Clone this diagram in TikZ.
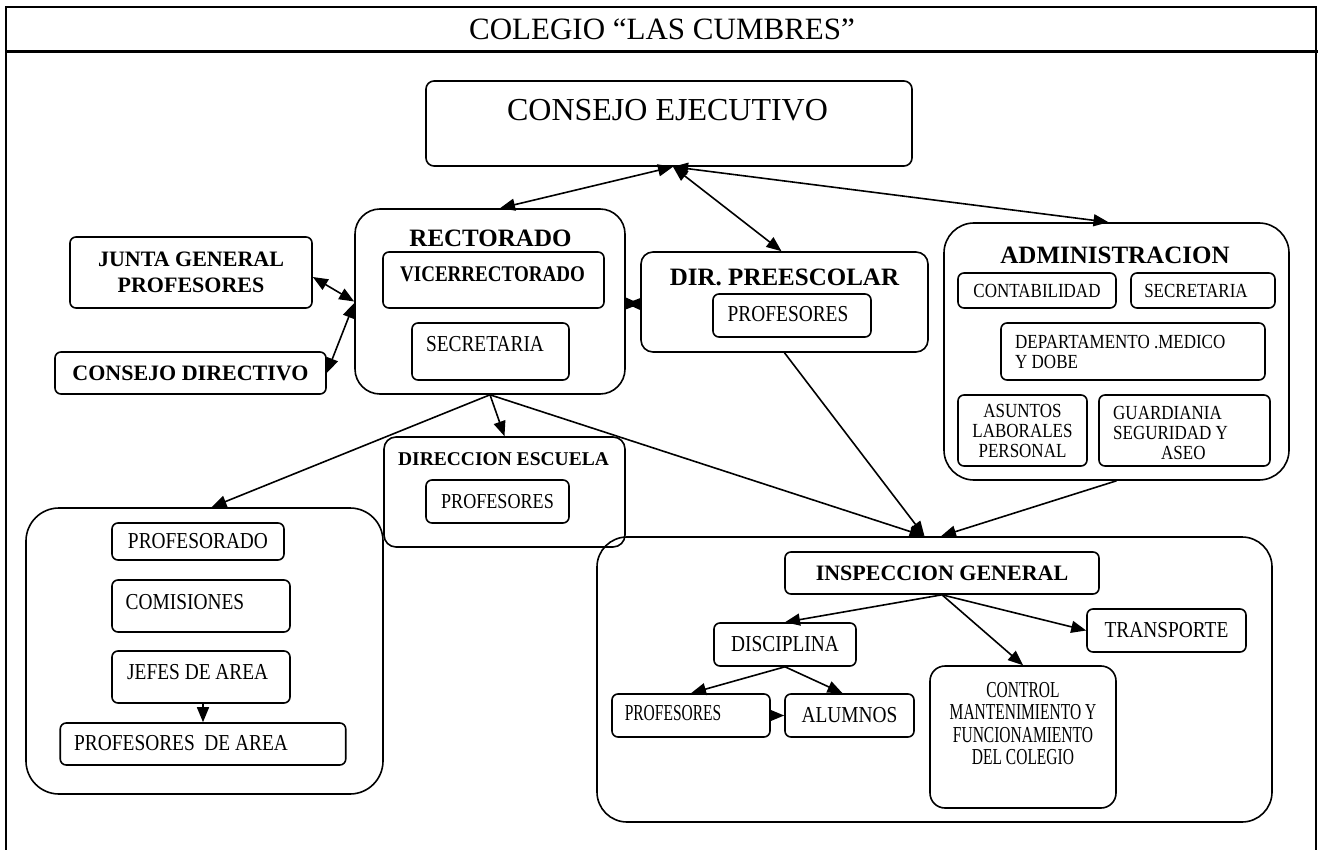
\documentclass[tikz,border=0pt]{standalone}
\usepackage{fontspec}
\setmainfont{Liberation Serif}
\newfontfamily\cond{Liberation Serif}[FakeStretch=0.85]
\usepackage{graphicx}
\usetikzlibrary{arrows.meta, positioning}
\newcommand{\txtN}{\cond\fontsize{22.8}{24}\selectfont}
\newcommand{\txtS}{\cond\fontsize{20}{20}\selectfont}
\newcommand{\txtB}{\fontsize{19.5}{21}\selectfont\bfseries}
\newcommand{\txtBB}{\fontsize{22}{26}\selectfont\bfseries}
\newcommand{\txtH}{\fontsize{25}{28}\selectfont\bfseries}
\newcommand{\narrow}[1]{\scalebox{0.8}[1]{#1}}
\tikzset{
  box/.style={draw=black, line width=1.6pt, rounded corners=6pt,
              inner sep=0pt, font=\txtN, align=center},
  bigbox/.style={draw=black, line width=1.6pt, rounded corners=30pt,
                 inner sep=0pt},
  lbl/.style={inner sep=0pt, font=\txtN},
  link/.style={line width=1.6pt, -{Triangle[length=15pt, width=12pt]}},
  link2/.style={line width=1.6pt,
                {Triangle[length=15pt, width=12pt]}-{Triangle[length=15pt, width=12pt]}},
}

\begin{document}
\begin{tikzpicture}[x=1pt, y=-1pt]
    \useasboundingbox (0,0) rectangle (1323,850);
    %% frame and title
    \draw[line width=2pt] (6,850) -- (6,7) -- (1316,7) -- (1316,850);
    \draw[line width=3.5pt] (6,51.5) -- (1318,51.5);
    \node[lbl, font=\fontsize{31}{34}\selectfont] (title) at (662,29) {COLEGIO “LAS CUMBRES”};
    %% consejo ejecutivo
    \node[box, rounded corners=8pt, minimum width=486, minimum height=85] (cons) at (669,123.5) {};
    \node[lbl, font=\fontsize{32}{36}\selectfont] (consT) at (667.5,110) {CONSEJO EJECUTIVO};
    %% rectorado
    \node[bigbox, rounded corners=25pt, minimum width=270, minimum height=185] (rect) at (490,301.5) {};
    \node[lbl, font=\txtH] (rectT) at (490.5,238) {RECTORADO};
    \node[box, minimum width=221, minimum height=56] (vice) at (493.5,280) {};
    \node[lbl, font=\cond\fontsize{22.4}{24}\selectfont\bfseries] (viceT) at (492.5,274) {VICERRECTORADO};
    \node[box, minimum width=157, minimum height=57] (secR) at (490.5,351.5) {};
    \node[lbl] (secRT) at (485,344.5) {SECRETARIA};
    \node[box, font=\txtBB, minimum width=242, minimum height=71] (junta) at (191,272.5) {JUNTA GENERAL\\PROFESORES};
    \node[box, font=\txtBB, minimum width=271, minimum height=42] (cdir) at (190.5,373) {CONSEJO DIRECTIVO};
    %% preescolar
    \node[bigbox, rounded corners=12pt, minimum width=287, minimum height=100] (pre) at (784.5,302) {};
    \node[lbl, font=\txtH] (preT) at (784.5,277) {DIR. PREESCOLAR};
    \node[box, minimum width=158, minimum height=43] (profP) at (792,315.5) {};
    \node[lbl] (profPT) at (788,314) {PROFESORES};
    %% administracion
    \node[bigbox, minimum width=345, minimum height=257] (admin) at (1116.5,351.5) {};
    \node[lbl, font=\txtH] (adminT) at (1115,255) {ADMINISTRACION};
    \node[box, font=\txtS, minimum width=158, minimum height=35] (conta) at (1037,290.5) {CONTABILIDAD};
    \node[box, minimum width=144, minimum height=35] (secA) at (1203,290.5) {};
    \node[lbl, font=\txtS] (secAT) at (1196,291) {SECRETARIA};
    \node[box, minimum width=264, minimum height=57] (dep) at (1133,351.5) {};
    \node[lbl, font=\txtS, align=left, anchor=west] (depT) at (1015,352) {DEPARTAMENTO .MEDICO\\Y DOBE};
    \node[box, font=\txtS, minimum width=129, minimum height=71] (asun) at (1022.5,430.5) {ASUNTOS\\LABORALES\\PERSONAL};
    \node[box, minimum width=171, minimum height=71] (guar) at (1184.5,430.5) {};
    \node[lbl, font=\txtS, align=left, anchor=west] (guarT) at (1113,433) {GUARDIANIA\\SEGURIDAD Y\\\hspace*{48pt}ASEO};
    %% direccion escuela
    \node[bigbox, rounded corners=12pt, minimum width=241, minimum height=110] (esc) at (504.5,492) {};
    \node[lbl, font=\txtB] (escT) at (503.5,459) {DIRECCION ESCUELA};
    \node[box, font=\cond\fontsize{21.3}{23}\selectfont, minimum width=143, minimum height=43] (profE) at (497.5,501.5) {PROFESORES};
    %% profesorado
    \node[bigbox, rounded corners=33pt, minimum width=357, minimum height=286] (leftc) at (204.5,651) {};
    \node[box, minimum width=172, minimum height=37] (profdo) at (198,541.5) {PROFESORADO};
    \node[box, minimum width=178, minimum height=52] (comis) at (201,606) {};
    \node[lbl, anchor=west] (comisT) at (125.5,602) {COMISIONES};
    \node[box, minimum width=178, minimum height=52] (jefes) at (201,677) {};
    \node[lbl, anchor=west] (jefesT) at (127,672) {JEFES DE AREA};
    \node[box, minimum width=285.5, minimum height=42] (pdea) at (203,744) {};
    \node[lbl, anchor=west] (pdeaT) at (74,743) {PROFESORES\ \ DE AREA};
    %% inspeccion
    \node[bigbox, minimum width=675, minimum height=285] (insp) at (934.5,679.5) {};
    \node[box, font=\txtBB, minimum width=314, minimum height=42] (ig) at (942,573) {INSPECCION GENERAL};
    \node[box, minimum width=142, minimum height=43] (disc) at (785,644.5) {DISCIPLINA};
    \node[box, minimum width=159, minimum height=43] (trans) at (1166.5,630.5) {TRANSPORTE};
    \node[box, minimum width=158, minimum height=43] (profI) at (691,715.5) {};
    \node[lbl] (profIT) at (673,713) {\narrow{PROFESORES}};
    \node[box, minimum width=129, minimum height=43] (alum) at (849.5,715.5) {ALUMNOS};
    \node[box, rounded corners=15pt, minimum width=186, minimum height=142] (ctrl) at (1023,737) {};
    \node[lbl, font=\cond\fontsize{22.8}{22.3}\selectfont, align=center] (ctrlT) at (1023,723.5)
      {\narrow{CONTROL}\\\narrow{MANTENIMIENTO Y}\\\narrow{FUNCIONAMIENTO}\\\narrow{DEL COLEGIO}};
    %% connectors
    \draw[link2] ([xshift=10pt]rect.north) -- ([xshift=4pt]cons.south);
    \draw[link2] ([xshift=4pt]cons.south) -- ([xshift=-3pt]pre.north);
    \draw[link2] ([xshift=4pt]cons.south) -- ([xshift=-8pt]admin.north);
    \draw[link2] ([yshift=-4.5pt]junta.east) -- (rect.west);
    \draw[link2] (cdir.east) -- ([yshift=-1.5pt]rect.west);
    \draw[link] ([yshift=-2pt]rect.east) -- ([yshift=-2pt]pre.west);
    \draw[link] ([yshift=-2pt]pre.west) -- ([yshift=-2pt]rect.east);
    \draw[link] (rect.south) -- ([xshift=7pt]leftc.north);
    \draw[link] (rect.south) -- (esc.north);
    \draw[link] (rect.south) -- ([xshift=-10pt]insp.north);
    \draw[link] (pre.south) -- ([xshift=-10pt]insp.north);
    \draw[link] (admin.south) -- ([xshift=6.5pt]insp.north);
    \draw[link] (ig.south) -- (disc.north);
    \draw[link] (ig.south) -- (ctrl.north);
    \draw[link] (ig.south) -- (trans.west);
    \draw[link] (disc.south) -- (profI.north);
    \draw[link] (disc.south) -- ([xshift=-7pt]alum.north);
    \draw[link] (profI.east) -- (alum.west);
    \draw[link] ([xshift=2pt]jefes.south) -- (pdea.north);
\end{tikzpicture}
\end{document}
